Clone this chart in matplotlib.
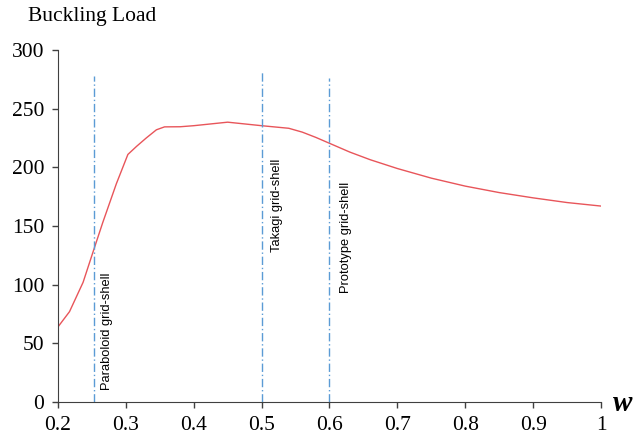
import matplotlib.pyplot as plt

# buckling load against w
w = [0.2, 0.217, 0.237, 0.252, 0.266, 0.286, 0.303, 0.316, 0.33, 0.345, 0.357,
     0.38, 0.4, 0.45, 0.5, 0.54, 0.56, 0.58, 0.6, 0.63, 0.66, 0.7, 0.75,
     0.8, 0.85, 0.9, 0.95, 1.0]
load = [64, 77, 102, 128.5, 153, 186, 211, 218, 225, 232, 234.5,
        234.6, 235.5, 238.5, 235.5, 233.3, 230, 225.5, 220.5, 213, 206.5, 199, 190.8,
        184, 178.5, 174, 170, 167]

shells = [0.253, 0.5, 0.6]
shell_top = [278, 281, 276]
shell_names = ["Paraboloid grid-shell", "Takagi grid-shell", "Prototype grid-shell"]
label_x = [0.272, 0.522, 0.625]
label_y = [10, 128, 93]

fig = plt.figure(figsize=(6.37, 4.45), dpi=100)
ax = fig.add_axes([0.091, 0.0966, 0.8525, 0.791])

ax.plot(w, load, color="#e8555a", lw=1.0)
for xs, top, name, lx, ly in zip(shells, shell_top, shell_names, label_x, label_y):
    ax.plot([xs, xs], [0, top], color="#5b9bd5", lw=1.0, ls=(0, (6, 2, 1, 2)))
    ax.text(lx, ly, name, rotation=90, fontsize=9.3, family="Liberation Sans",
            ha="center", va="bottom")

ax.set_xlim(0.2, 1.0)
ax.set_ylim(0, 300)
ax.set_xticks([0.2, 0.3, 0.4, 0.5, 0.6, 0.7, 0.8, 0.9, 1.0])
ax.set_xticklabels(["0.2", "0.3", "0.4", "0.5", "0.6", "0.7", "0.8", "0.9", "1"])
ax.set_yticks([0, 50, 100, 150, 200, 250, 300])
for lab in ax.get_xticklabels() + ax.get_yticklabels():
    lab.set_family("Liberation Serif")
    lab.set_fontsize(15.5)
ax.tick_params(direction="out", length=4, width=1, color="#404040", pad=6)
ax.spines["top"].set_visible(False)
ax.spines["right"].set_visible(False)
ax.spines["left"].set_color("#404040")
ax.spines["bottom"].set_color("#404040")

fig.text(0.044, 0.962, "Buckling Load", family="Liberation Serif", fontsize=15.5,
         va="center", ha="left")
fig.text(0.962, 0.094, "w", family="Liberation Serif", fontsize=21,
         fontweight="bold", style="italic", va="center", ha="left")

fig.savefig("out.png", dpi=100)
